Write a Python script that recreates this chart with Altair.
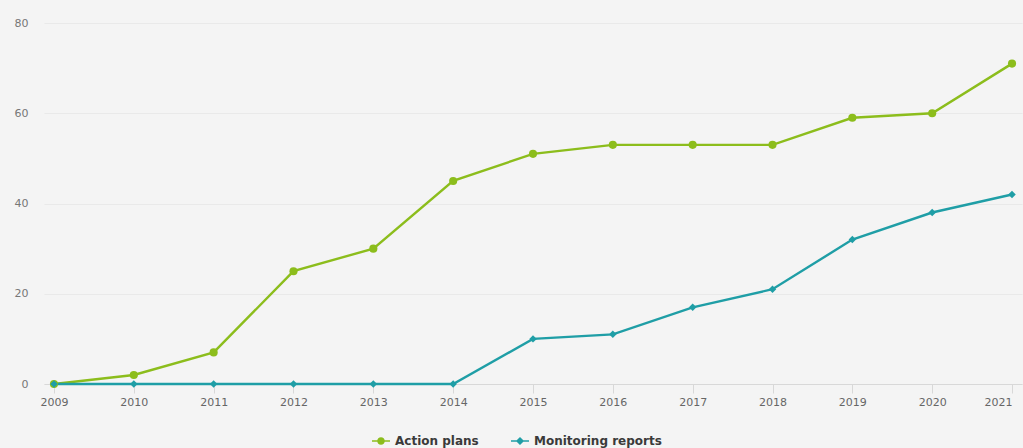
import altair as alt
import pandas as pd

years = [2009, 2010, 2011, 2012, 2013, 2014, 2015, 2016, 2017, 2018, 2019, 2020, 2021]
action_plans = [0, 2, 7, 25, 30, 45, 51, 53, 53, 53, 59, 60, 71]
monitoring_reports = [0, 0, 0, 0, 0, 0, 10, 11, 17, 21, 32, 38, 42]
series_names = ["Action plans", "Monitoring reports"]
colors = ["#8cbd1c", "#1f9ea6"]
y_ticks = [0, 20, 40, 60, 80]

rows = []
for y, a, m in zip(years, action_plans, monitoring_reports):
    rows.append({"year": y, "series": series_names[0], "value": a})
    rows.append({"year": y, "series": series_names[1], "value": m})
df = pd.DataFrame(rows)

circle_path = ("M-1,-0.09L1,-0.09L1,0.09L-1,0.09Z "
               "M-0.42,0A0.42,0.42 0 1,1 0.42,0A0.42,0.42 0 1,1 -0.42,0Z")
diamond_path = ("M-1,-0.09L1,-0.09L1,0.09L-1,0.09Z "
                "M0,-0.45L0.45,0L0,0.45L-0.45,0Z")

x_enc = alt.X("year:Q",
              scale=alt.Scale(domain=[2008.875, 2021.125], nice=False, zero=False),
              axis=alt.Axis(values=years, format="d", title=None, grid=False,
                            domain=True, domainColor="#d8d8d8", ticks=True,
                            tickColor="#d8d8d8", tickSize=9, labelColor="#666666",
                            labelFontSize=11, labelPadding=3, labelFont="DejaVu Sans",
                            labelAlign={"expr": "datum.value == 2021 ? 'right' : 'center'"}))
y_enc = alt.Y("value:Q",
              scale=alt.Scale(domain=[0, 80], nice=False),
              axis=alt.Axis(values=y_ticks, title=None, grid=True, gridColor="#e9e9e9",
                            domain=False, ticks=False, labelColor="#777777",
                            labelFontSize=11, labelPadding=16, labelFont="DejaVu Sans"))
color_scale = alt.Scale(domain=series_names, range=colors)

lines = alt.Chart(df).mark_line(strokeWidth=2.4).encode(
    x=x_enc, y=y_enc,
    color=alt.Color("series:N", scale=color_scale, legend=None),
    detail="series:N",
)

pts_a = alt.Chart(df).transform_filter(alt.datum.series == series_names[0]).mark_point(
    shape="circle", filled=True, size=66, opacity=1).encode(
    x=x_enc, y=y_enc,
    color=alt.Color("series:N", scale=color_scale, legend=None),
)
pts_m = alt.Chart(df).transform_filter(alt.datum.series == series_names[1]).mark_point(
    shape="diamond", filled=True, size=56, opacity=1).encode(
    x=x_enc, y=y_enc,
    color=alt.Color("series:N", scale=color_scale, legend=None),
)

leg = alt.Legend(title=None, orient="none", direction="horizontal",
                 legendX=328, legendY=409, symbolSize=324,
                 symbolOpacity=1, columnPadding=32, labelOffset=5,
                 labelFontSize=12, labelFontWeight="bold", labelColor="#3a3a3a",
                 labelFont="DejaVu Sans", symbolStrokeWidth=0)

legend_layer = alt.Chart(df).mark_point(filled=True, opacity=0, size=1).encode(
    x=x_enc, y=y_enc,
    color=alt.Color("series:N", scale=color_scale, legend=leg),
    shape=alt.Shape("series:N",
                    scale=alt.Scale(domain=series_names, range=[circle_path, diamond_path]),
                    legend=leg),
)

chart = alt.layer(lines, pts_a, pts_m, legend_layer).resolve_scale(
    color="independent", shape="independent"
).properties(
    width=978, height=361,
    padding={"left": 44, "top": 23, "right": 1, "bottom": 64},
    autosize=alt.AutoSizeParams(type="none"),
    background="#f4f4f4",
).configure_view(stroke=None)

chart.save("out.html", embed_options={"renderer": "svg", "actions": False})
